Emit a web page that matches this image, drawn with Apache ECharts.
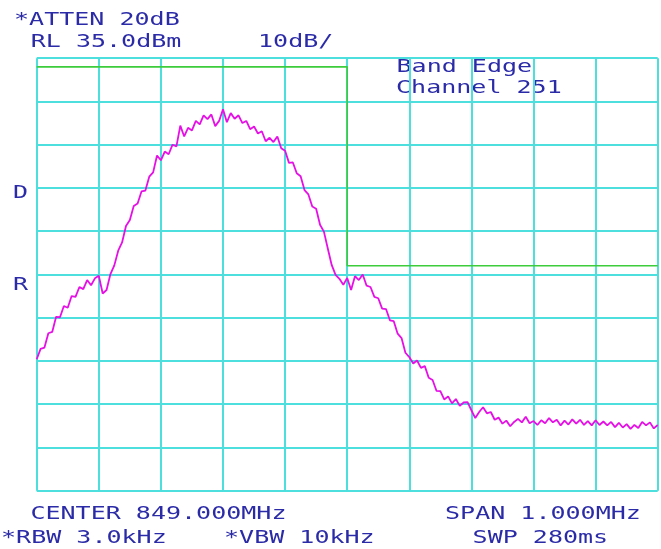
<!DOCTYPE html>
<html>
<head>
<meta charset="utf-8">
<script src="https://cdn.jsdelivr.net/npm/echarts@6/dist/echarts.min.js"></script>
<style>html,body{margin:0;padding:0;background:#fff;}#chart{width:661px;height:549px;}</style>
</head>
<body>
<div id="chart"></div>
<script>
// Spectrum analyzer settings
const refLevel = 35;          // dBm (RL)
const dbPerDiv = 10;
const startFreqKHz = 848500;  // center 849.000 MHz, span 1.000 MHz
const stopFreqKHz = 849500;
const freqStepKHz = 6.25;     // 161 trace points across the span

// Measured trace, dBm
const traceDbm = [
  -34.6,-32.2,-31.9,-28.6,-28.3,-24.8,-24.9,-22.3,-22.7,-20.0,
  -20.2,-17.9,-18.4,-16.3,-17.5,-15.9,-15.3,-19.4,-18.6,-14.9,
  -12.9,-9.5,-7.6,-3.8,-2.4,0.8,1.4,4.2,4.4,7.6,
  8.6,12.5,11.4,13.4,12.8,15.0,14.6,19.4,16.9,18.9,
  18.3,20.5,19.7,21.8,20.9,22.0,19.3,20.5,23.2,20.2,
  22.3,21.0,21.8,20.0,20.5,18.6,19.2,17.6,18.1,15.8,
  16.6,15.6,16.9,14.2,13.6,10.8,10.9,8.4,7.7,4.5,
  3.5,0.7,0.2,-3.5,-5.1,-9.0,-12.8,-15.1,-16.0,-17.4,
  -15.8,-18.6,-15.4,-16.3,-15.0,-17.6,-17.9,-20.2,-20.5,-22.9,
  -23.0,-25.6,-25.8,-28.7,-29.7,-33.1,-34.1,-35.6,-34.9,-36.6,
  -36.2,-38.9,-39.4,-41.9,-42.0,-43.9,-43.2,-44.8,-43.8,-45.4,
  -44.6,-44.5,-46.4,-48.2,-46.8,-45.7,-47.1,-46.8,-48.6,-48.1,
  -49.5,-48.8,-50.1,-49.1,-48.4,-49.2,-47.9,-49.4,-48.9,-49.8,
  -48.7,-49.4,-48.2,-49.2,-48.6,-49.9,-48.8,-49.7,-48.5,-49.5,
  -48.6,-49.8,-48.9,-49.9,-48.7,-49.8,-49.0,-49.9,-49.1,-50.3,
  -49.3,-50.4,-49.6,-50.7,-49.8,-50.5,-49.1,-49.9,-49.2,-50.6,
  -49.8
];

// Band-edge limit line (green)
const limitFreqKHz = [848500, 849000, 849000, 849500];
const limitDbm = [33, 33, -13, -13];

// Screen annotations
const headerLine1 = '*ATTEN 20dB';
const headerLine2 = 'RL 35.0dBm';
const scaleText = '10dB/';
const titleLine1 = 'Band Edge';
const titleLine2 = 'Channel 251';
const footerCenter = 'CENTER 849.000MHz';
const footerSpan = 'SPAN 1.000MHz';
const footerRbw = '*RBW 3.0kHz';
const footerVbw = '*VBW 10kHz';
const footerSwp = 'SWP 280ms';
const sideD = 'D';
const sideR = 'R';

const traceData = traceDbm.map((v, i) => [startFreqKHz + i * freqStepKHz, v - refLevel]);
const limitData = limitFreqKHz.map((f, i) => [f, limitDbm[i] - refLevel]);

const textColor = '#2b2ba8';
const gridColor = '#4ddede';
const FONT = '18px "DejaVu Sans Mono"';
const SX = 1.39;
function txt(t, x, y) {
  return { type: 'text', x: x, y: y, scaleX: SX, silent: true,
    style: { text: t, font: FONT, fill: textColor, verticalAlign: 'middle', align: 'left' } };
}

const chart = echarts.init(document.getElementById('chart'), null, { renderer: 'canvas' });
chart.setOption({
  backgroundColor: '#ffffff',
  animation: false,
  grid: { left: 36.7, right: 3.3, top: 58.2, bottom: 58.3, containLabel: false, show: false },
  xAxis: {
    type: 'value', min: startFreqKHz, max: stopFreqKHz, interval: 100,
    axisLine: { show: false },
    axisTick: { show: false }, axisLabel: { show: false },
    splitLine: { show: true, lineStyle: { color: gridColor, width: 2 } }
  },
  yAxis: {
    type: 'value', min: -10 * dbPerDiv, max: 0, interval: dbPerDiv,
    axisLine: { show: false },
    axisTick: { show: false }, axisLabel: { show: false },
    splitLine: { show: true, lineStyle: { color: gridColor, width: 2 } }
  },
  series: [
    {
      type: 'line', data: limitData, showSymbol: false, silent: true,
      lineStyle: { color: '#3ccc3c', width: 1.6 }, z: 3
    },
    {
      type: 'line', data: traceData, showSymbol: false, silent: true,
      lineStyle: { color: '#e610e6', width: 1.8 }, z: 4
    }
  ],
  graphic: [
    txt(headerLine1, 14, 20),
    txt(headerLine2, 30.7, 42.5),
    txt(scaleText, 258, 42.5),
    txt(titleLine1, 396.5, 67.5),
    txt(titleLine2, 396, 88.5),
    txt(sideD, 13, 193),
    txt(sideR, 13, 285.5),
    txt(footerCenter, 30.4, 514),
    txt(footerSpan, 445, 514),
    txt(footerRbw, 1, 538),
    txt(footerVbw, 224, 538),
    txt(footerSwp, 472.6, 538)
  ]
});
</script>
</body>
</html>
